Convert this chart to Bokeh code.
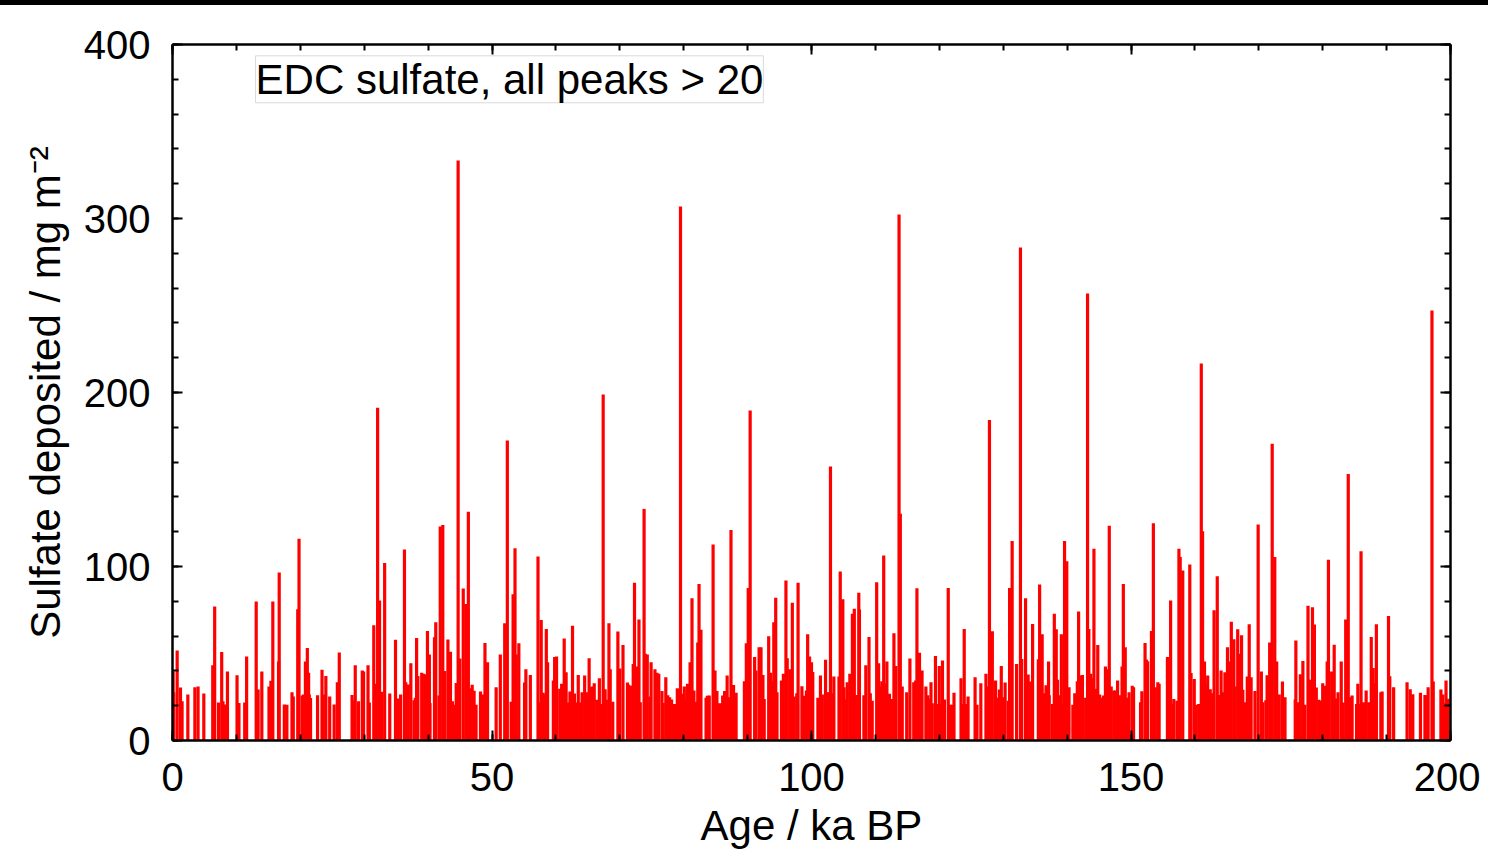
from bokeh.plotting import figure
from bokeh.models import (Range1d, LinearAxis, SingleIntervalTicker, Label, Div,
                          ColumnDataSource, CustomJSTickFormatter)
from bokeh.layouts import column
from bokeh.embed import file_html
from bokeh.resources import INLINE

# ---- data: ages (ka BP) and sulfate deposited (mg m^-2) of each peak ----
age_0_50 = [0.1, 0.2, 0.73, 1.25, 1.5, 2.4, 3.5, 4.0, 4.9, 6.3, 6.6, 7.2, 7.7, 7.9, 8.3, 8.6,
            10.1, 10.4, 11.3, 11.6, 13.1, 13.4, 13.98, 15.1, 15.4, 15.7, 16.6, 16.7, 17.5, 17.9,
            18.7, 18.9, 19.6, 19.8, 20.3, 20.5, 20.8, 21.1, 21.3, 21.4, 21.6, 22.7, 23.4, 23.6,
            24.0, 24.6, 25.3, 25.8, 26.1, 28.1, 28.3, 28.6, 29.1, 29.7, 29.9, 30.6, 30.8, 31.5,
            31.8, 32.1, 32.4, 32.7, 33.2, 34.0, 34.9, 35.3, 35.7, 36.3, 36.5, 36.9, 37.3, 37.8,
            38.0, 38.2, 38.4, 39.0, 39.3, 39.6, 39.9, 40.2, 40.3, 41.0, 41.2, 41.7, 41.9, 42.3,
            42.6, 43.1, 43.5, 43.8, 44.2, 44.4, 44.7, 44.97, 45.5, 45.9, 46.1, 46.3, 46.6, 46.9,
            47.2, 47.5, 48.2, 48.5, 48.9, 49.3]
val_0_50 = [39.7, 27.8, 51.7, 30.4, 22.6, 26.4, 30.6, 31.0, 27.0, 43.3, 77.0, 21.8, 50.8, 22.6, 20.7, 39.6,
            37.5, 21.5, 21.8, 48.3, 79.9, 29.3, 39.6, 31.0, 34.3, 79.9, 45.4, 96.6, 20.7, 20.5,
            27.8, 25.3, 75.5, 115.9, 25.9, 26.4, 45.4, 53.2, 39.0, 26.4, 24.4, 26.0, 40.6, 26.4,
            37.0, 25.3, 20.7, 33.5, 50.6, 26.2, 23.0, 43.3, 22.6, 40.2, 39.6, 43.3, 21.8, 66.3,
            32.6, 191.2, 80.5, 28.0, 102.0, 27.0, 57.9, 24.2, 26.4, 109.8, 33.5, 32.2, 44.4, 23.2,
            24.5, 58.9, 37.0, 39.0, 38.3, 38.0, 62.9, 49.4, 21.5, 59.4, 68.0, 25.9, 123.0, 123.8,
            40.0, 58.0, 51.0, 22.6, 20.5, 33.0, 333.3, 47.1, 87.4, 78.5, 28.2, 131.4, 30.0, 32.1,
            28.6, 20.5, 28.2, 26.4, 56.1, 45.0]

age_50_100 = [50.65, 51.3, 51.99, 52.4, 53.0, 53.3, 53.6, 53.8, 54.2, 55.1, 55.3, 56.0, 57.2, 57.5,
              57.7, 58.0, 58.3, 58.5, 58.7, 59.6, 59.8, 60.1, 60.6, 60.9, 61.1, 61.3, 61.6, 61.9,
              62.2, 62.4, 62.6, 62.9, 63.2, 63.5, 63.7, 64.1, 64.5, 64.8, 65.2, 65.4, 65.7, 66.0,
              66.4, 66.8, 67.1, 67.4, 67.7, 67.9, 68.3, 68.5, 68.9, 69.7, 70.0, 70.5, 71.2, 71.4,
              71.7, 72.1, 72.3, 72.7, 73.0, 73.2, 73.8, 74.0, 74.3, 74.7, 74.9, 75.5, 75.8, 76.1,
              76.6, 76.8, 77.2, 77.5, 77.8, 78.1, 78.3, 78.7, 79.0, 79.3, 79.5, 79.8, 80.1, 80.4,
              80.6, 81.0, 81.3, 81.6, 81.9, 82.2, 82.4, 82.7, 83.5, 83.7, 84.0, 84.6, 84.9, 85.2,
              85.5, 85.9, 86.1, 86.4, 86.8, 87.1, 87.4, 87.7, 87.8, 88.2, 89.5, 89.8, 90.1, 90.4,
              91.1, 91.3, 91.8, 92.1, 92.4, 92.6, 93.3, 93.6, 93.8, 94.1, 94.4, 94.6, 95.3, 95.6,
              96.0, 96.2, 96.6, 97.0, 97.3, 97.7, 97.9, 98.5, 98.8, 99.2, 99.4, 99.7]
val_50_100 = [30.6, 49.4, 67.4, 172.4, 22.2, 84.0, 110.5, 49.4, 55.9, 33.4, 40.9, 37.7, 105.7, 21.8,
              69.3, 27.4, 26.4, 64.1, 44.9, 34.5, 48.0, 48.3, 29.7, 32.6, 25.3, 58.6, 39.2, 21.8,
              28.1, 21.8, 66.0, 27.0, 21.8, 37.7, 21.8, 27.8, 37.4, 27.8, 47.3, 30.6, 31.0, 32.9,
              23.4, 35.8, 21.0, 198.9, 29.5, 23.4, 67.4, 40.9, 22.2, 62.7, 41.4, 54.9, 33.3, 32.1,
              31.4, 44.0, 90.6, 42.5, 69.5, 22.0, 133.1, 49.8, 49.4, 25.3, 44.9, 40.9, 39.0, 38.3,
              28.4, 21.6, 36.4, 26.0, 24.9, 23.6, 21.0, 21.0, 30.0, 29.5, 306.9, 26.8, 31.0, 23.6,
              32.6, 44.9, 81.8, 28.8, 22.2, 56.3, 90.0, 63.6, 24.5, 25.7, 25.9, 112.6, 40.2, 28.4,
              21.4, 21.4, 25.9, 28.4, 37.4, 24.9, 121.0, 22.2, 31.9, 27.4, 34.1, 55.9, 87.7, 189.7,
              48.0, 40.2, 53.6, 53.6, 37.7, 23.8, 59.9, 39.0, 34.1, 68.0, 82.0, 27.8, 34.5, 38.3,
              91.9, 47.3, 40.9, 79.1, 25.3, 27.2, 90.6, 31.2, 25.7, 28.8, 61.0, 48.3]

age_100_150 = [100.0, 100.2, 101.0, 101.4, 101.7, 102.2, 102.5, 102.8, 102.97, 103.2, 103.5, 104.3,
               104.5, 104.9, 105.1, 105.3, 105.6, 106.0, 106.4, 106.7, 107.0, 107.4, 107.5, 108.2,
               108.5, 109.0, 109.2, 109.5, 110.2, 110.5, 110.8, 111.0, 111.3, 111.5, 111.8, 112.2,
               112.5, 112.9, 113.2, 113.7, 113.9, 114.2, 114.9, 115.4, 116.0, 116.3, 116.5, 116.9,
               117.3, 117.9, 118.2, 118.5, 118.7, 118.9, 119.4, 119.7, 120.0, 120.2, 120.5, 120.8,
               121.4, 121.7, 122.0, 122.3, 123.4, 123.6, 123.9, 124.2, 124.5, 125.6, 125.9, 126.5,
               127.3, 127.6, 127.85, 128.1, 128.3, 128.8, 129.2, 129.4, 129.7, 130.0, 130.3, 130.8,
               131.0, 131.2, 131.4, 132.1, 132.7, 132.9, 133.5, 133.9, 134.3, 134.6, 135.5, 135.7,
               136.1, 136.4, 136.7, 137.1, 137.2, 137.7, 138.0, 138.3, 138.5, 138.8, 139.1, 139.3,
               139.6, 139.95, 140.3, 140.9, 141.2, 141.6, 141.8, 142.1, 142.4, 142.9, 143.2, 143.4,
               143.7, 143.9, 144.2, 144.5, 144.8, 145.1, 145.5, 145.7, 146.0, 146.2, 146.6, 146.9,
               147.3, 147.6, 147.9, 148.2, 148.6, 148.8, 149.1, 149.4, 149.7]
val_100_150 = [44.9, 39.4, 24.5, 37.4, 26.5, 46.4, 27.8, 27.8, 157.5, 27.2, 36.8, 36.8,
               97.1, 81.2, 30.6, 23.6, 33.5, 38.3, 72.8, 75.7, 26.2, 84.9, 75.3, 26.0,
               43.2, 59.5, 27.2, 22.9, 91.0, 44.4, 31.0, 34.1, 106.3, 32.6, 45.4, 26.8,
               23.9, 61.6, 42.8, 302.3, 130.3, 31.0, 27.8, 47.1, 33.5, 34.5, 87.5, 50.4,
               40.2, 31.0, 26.0, 24.0, 33.5, 21.4, 48.6, 21.0, 42.8, 20.7, 46.0, 23.6,
               87.7, 20.5, 20.5, 27.4, 35.8, 21.0, 64.1, 21.0, 25.3, 36.4, 20.5, 32.9,
               38.3, 31.0, 184.2, 34.9, 62.8, 34.5, 24.5, 29.3, 42.8, 24.9, 33.3, 22.9,
               87.7, 26.8, 114.6, 44.0, 283.3, 46.9, 81.8, 38.0, 33.9, 67.0, 46.7, 89.6,
               61.0, 27.2, 31.8, 45.4, 26.0, 21.0, 72.8, 64.0, 34.9, 26.0, 61.0, 20.5,
               114.6, 103.0, 30.6, 20.5, 27.2, 34.1, 74.1, 37.4, 37.7, 24.5, 256.9, 64.1,
               38.3, 35.8, 110.2, 29.7, 54.9, 26.4, 24.5, 25.9, 42.5, 40.9, 123.4, 31.0,
               28.7, 28.7, 34.5, 26.0, 42.5, 90.0, 53.6, 24.5, 27.8]

age_150_200 = [150.2, 150.4, 151.5, 151.7, 152.2, 152.4, 152.6, 153.2, 153.5, 153.8, 154.2, 154.4,
               155.7, 155.9, 156.2, 156.5, 156.7, 157.2, 157.5, 157.7, 158.1, 159.2, 159.4, 159.9,
               160.2, 160.6, 161.0, 161.2, 161.5, 161.7, 162.0, 162.4, 162.6, 163.0, 163.5, 163.8,
               164.1, 164.4, 164.7, 165.1, 165.4, 165.7, 166.1, 166.3, 166.7, 167.0, 167.3, 167.5,
               167.9, 168.2, 168.5, 168.8, 169.4, 169.9, 170.4, 170.6, 171.1, 171.3, 171.7, 172.1,
               172.5, 172.8, 173.2, 173.7, 174.1, 175.7, 175.8, 176.1, 176.5, 176.9, 177.2, 177.7,
               178.0, 178.4, 178.7, 179.0, 179.4, 179.7, 180.0, 180.4, 180.7, 180.9, 181.4, 181.8,
               182.1, 182.4, 182.9, 183.2, 183.6, 184.0, 184.3, 184.6, 185.3, 185.5, 185.9, 186.0,
               186.4, 186.8, 187.2, 187.6, 187.9, 188.2, 188.4, 189.1, 189.3, 190.3, 190.5, 191.1,
               193.2, 193.7, 194.1, 195.3, 196.0, 196.2, 196.5, 197.1, 197.3, 198.5, 198.8, 199.0,
               199.3, 199.6]
val_150_200 = [31.4, 30.6, 22.0, 28.3, 56.0, 46.5, 45.6, 62.9, 124.9, 30.6, 33.5, 32.6,
               48.0, 37.8, 80.4, 21.0, 23.9, 22.9, 110.2, 105.4, 97.7, 101.1, 38.8, 35.4,
               20.5, 21.0, 216.7, 120.3, 45.4, 32.4, 37.4, 29.5, 27.2, 74.9, 94.4, 26.2,
               40.2, 27.8, 39.2, 53.6, 45.4, 68.2, 58.2, 31.0, 63.9, 49.8, 60.5, 29.1,
               22.0, 36.8, 66.8, 36.4, 28.4, 124.1, 39.6, 22.0, 23.2, 37.5, 56.3, 170.6,
               105.4, 45.4, 26.4, 33.9, 24.9, 23.6, 57.5, 22.0, 38.1, 45.7, 20.5, 77.4,
               34.9, 76.6, 66.6, 30.4, 23.4, 22.9, 32.9, 31.4, 45.4, 103.9, 39.6, 55.0,
               24.1, 27.8, 45.4, 21.8, 69.5, 153.2, 24.9, 25.9, 21.0, 32.6, 21.0, 108.7,
               22.0, 28.8, 22.0, 59.5, 41.7, 32.9, 66.8, 27.8, 28.2, 71.6, 36.9, 30.6,
               33.5, 29.5, 26.6, 27.5, 26.2, 25.9, 30.6, 247.1, 33.9, 29.3, 26.4, 21.4,
               34.5, 24.0]

age_ka = age_0_50 + age_50_100 + age_100_150 + age_150_200
sulfate = val_0_50 + val_50_100 + val_100_150 + val_150_200

x_major_ticks = [0, 50, 100, 150, 200]
y_major_ticks = [0, 100, 200, 300, 400]

FONT = "Liberation Sans"

p = figure(width=1480, height=851,
           x_range=Range1d(0, 200), y_range=Range1d(0, 400),
           output_backend="svg", toolbar_location=None,
           min_border_left=172, min_border_right=30,
           min_border_top=44, min_border_bottom=108,
           background_fill_color="white", border_fill_color="white")
p.outline_line_color = None
p.xgrid.visible = False
p.ygrid.visible = False

src = ColumnDataSource(data=dict(age=age_ka, val=sulfate))
p.vbar(x="age", top="val", bottom=0, width=0.5, source=src,
       fill_color="#ff0000", line_color=None)

bottom_axis = p.below[0]
left_axis = p.left[0]
top_axis = LinearAxis()
right_axis = LinearAxis()
p.add_layout(top_axis, "above")
p.add_layout(right_axis, "right")

for ax in [bottom_axis, top_axis]:
    ax.ticker = SingleIntervalTicker(interval=50, num_minor_ticks=5)
for ax in [left_axis, right_axis]:
    ax.ticker = SingleIntervalTicker(interval=100, num_minor_ticks=5)

for ax in [bottom_axis, left_axis, top_axis, right_axis]:
    ax.axis_line_color = "black"
    ax.axis_line_width = 2.5
    ax.major_tick_in = 10
    ax.major_tick_out = 0
    ax.minor_tick_in = 6
    ax.minor_tick_out = 0
    ax.major_tick_line_width = 2
    ax.minor_tick_line_width = 2
    ax.major_tick_line_color = "black"
    ax.minor_tick_line_color = "black"
    ax.major_label_text_font = FONT
    ax.major_label_text_font_size = "40px"
    ax.major_label_text_color = "black"
    ax.axis_label_text_font = FONT
    ax.axis_label_text_font_size = "42px"
    ax.axis_label_text_font_style = "normal"
    ax.axis_label_text_color = "black"

for ax in [top_axis, right_axis]:
    ax.formatter = CustomJSTickFormatter(code="return ''")
    ax.major_label_text_font_size = "0px"
    ax.major_label_standoff = 0

bottom_axis.axis_label = "Age / ka BP"
left_axis.axis_label = "Sulfate deposited / mg m\u207b\u00b2"
bottom_axis.major_label_standoff = 22
bottom_axis.axis_label_standoff = 8
left_axis.major_label_standoff = 22
left_axis.axis_label_standoff = 12

label = Label(x=13.0, y=393.5, text="EDC sulfate, all peaks > 20",
              text_font=FONT, text_font_size="42px", text_color="black",
              text_baseline="top", text_align="left",
              border_line_color="#d9d9d9", border_line_width=1,
              background_fill_color="white", padding=0)
p.add_layout(label)

bar = Div(text='<div style="position:fixed;top:0px;left:0px;width:1488px;'
               'height:5px;background-color:black;z-index:100;"></div>',
          width=1480, height=1)

layout = column(p, bar)
open("out.html", "w").write(file_html(layout, INLINE))
